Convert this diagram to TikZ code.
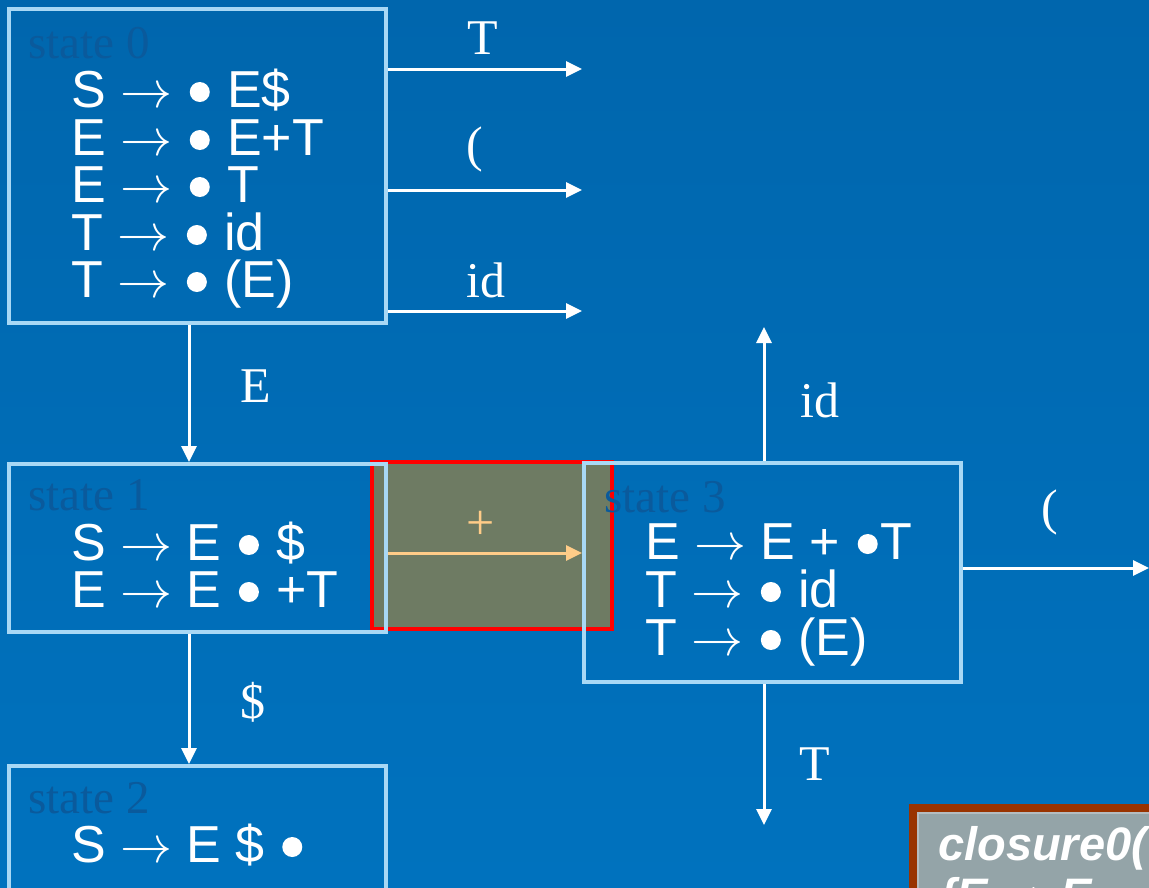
\RequirePackage{fix-cm}
\documentclass[tikz,border=0pt]{standalone}
\usepackage{fontspec}
\usepackage{graphicx}
\setmainfont{Liberation Serif}
\newfontfamily\arialf{Liberation Sans}
\usetikzlibrary{arrows.meta}
\definecolor{bgtop}{HTML}{0066AD}
\definecolor{bgbot}{HTML}{0072BE}
\definecolor{boxline}{HTML}{A8D8F5}
\definecolor{statec}{HTML}{0A5A9C}
\definecolor{plusc}{HTML}{FFCC88}
\definecolor{olivefill}{HTML}{6E7B63}
\definecolor{brownline}{HTML}{993300}
\definecolor{clfill}{HTML}{94A4A8}
\definecolor{clinner}{HTML}{B4BCC0}
\newcommand\bul{\hspace{3pt}\tikz[baseline={(0pt,-15pt)}]\fill[white] (0pt,0pt) circle (10pt);\hspace{3pt}}
\newcommand\ar{$\rightarrow$}
\begin{document}
\begin{tikzpicture}[x=1pt,y=-1pt,
  statebox/.style={draw=boxline, line width=4pt, minimum width=377pt, inner sep=0pt},
  arr/.style={color=white, line width=3pt, -{Triangle[length=16pt,width=15pt]}},
  plusarr/.style={color=plusc, line width=3pt, -{Triangle[length=16pt,width=15pt]}},
  prod/.style={anchor=base west, inner sep=0pt, text=white, font=\arialf\fontsize{52}{52}\selectfont},
  stlabel/.style={anchor=base west, inner sep=0pt, text=statec, font=\fontsize{47}{47}\selectfont},
  elabel/.style={anchor=base, inner sep=0pt, text=white, font=\fontsize{50}{50}\selectfont},
  cltext/.style={anchor=base west, inner sep=0pt, text=white, font=\arialf\bfseries\itshape\fontsize{47}{47}\selectfont}]
\useasboundingbox (0,0) rectangle (1149,887);
\clip (0,0) rectangle (1149,887);
\shade[top color=bgtop, bottom color=bgbot] (0,0) rectangle (1149,887);
% highlight
\node[draw=red, fill=olivefill, line width=4pt, minimum width=240pt, minimum height=167pt, inner sep=0pt] (hl) at (492,545.5) {};
% state boxes
\node[statebox, minimum height=314pt] (s0) at (197.5,166) {};
\node[statebox, minimum height=168pt] (s1) at (197.5,548) {};
\node[statebox, minimum height=134pt] (s2) at (197.5,833) {};
\node[statebox, minimum height=219pt] (s3) at (772.5,572.5) {};
% state labels
\node[stlabel] (l0) at (28,58) {state 0};
\node[stlabel] (l1) at (28,510) {state 1};
\node[stlabel] (l2) at (28,813) {state 2};
\node[stlabel] (l3) at (604,512) {state 3};
% productions
\node[prod] (p01) at (71,107) {S \ar\ \bul{} E\$};
\node[prod] (p02) at (71,155) {E \ar\ \bul{} E+T};
\node[prod] (p03) at (71,202) {E \ar\ \bul{} T};
\node[prod] (p04) at (71,250) {T \ar\ \bul{} id};
\node[prod] (p05) at (71,297) {T \ar\ \bul{} (E)};
\node[prod] (p11) at (71,560) {S \ar\ E \bul{} \$};
\node[prod] (p12) at (71,607) {E \ar\ E \bul{} +T};
\node[prod] (p21) at (71,862) {S \ar\ E \$ \bul};
\node[prod] (p31) at (645,559) {E \ar\ E + \bul T};
\node[prod] (p32) at (645,607) {T \ar\ \bul{} id};
\node[prod] (p33) at (645,655) {T \ar\ \bul{} (E)};
% connector ends
\coordinate (t1) at (582,69);
\coordinate (t2) at (582,190);
\coordinate (t3) at (582,311);
\coordinate (xe) at (189,0);
\coordinate (py) at (0,553);
\coordinate (up) at (764,327);
\coordinate (dn) at (764,825);
\coordinate (rt) at (1149,568);
% connectors
\draw[arr] (t1 -| s0.east) -- (t1);
\draw[arr] (t2 -| s0.east) -- (t2);
\draw[arr] (t3 -| s0.east) -- (t3);
\draw[arr] (s0.south -| xe) -- (s1.north -| xe);
\draw[arr] (s1.south -| xe) -- (s2.north -| xe);
\draw[plusarr] (s1.east |- py) -- (s3.west |- py);
\draw[arr] (up |- s3.north) -- (up);
\draw[arr] (dn |- s3.south) -- (dn);
\draw[arr] (rt -| s3.east) -- (rt);
% edge labels
\node[elabel] (lt1) at (483,54) {T};
\node[elabel] (lt2) at (475,161) {(};
\node[elabel] (lt3) at (486,297) {id};
\node[elabel] (le) at (256,402) {E};
\node[elabel] (ld) at (253,718) {\$};
\node[inner sep=0pt, text=plusc, font=\fontsize{50}{50}\selectfont] (lp) at (481,525) {+};
\node[elabel] (lu) at (820,417) {id};
\node[elabel] (ldn) at (815,780) {T};
\node[elabel] (lr) at (1050,524) {(};
% closure box
\draw[brownline, line width=8pt, fill=clfill] (913,808) rectangle (1200,960);
\draw[clinner, line width=2pt] (918,813) rectangle (1200,960);
\node[cltext] (cl1) at (938,860) {closure0(};
\node[cltext] (cl2) at (938,911) {\{E $\rightarrow$ E};
\end{tikzpicture}
\end{document}
